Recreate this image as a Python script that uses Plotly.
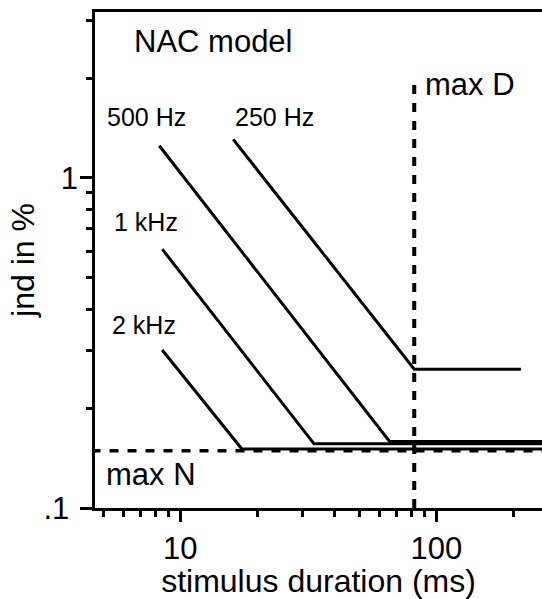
import plotly.graph_objects as go

# ---- data ----
series_names = ["250 Hz", "500 Hz", "1 kHz", "2 kHz"]
dur_250 = [16.1, 82, 214]
jnd_250 = [1.307, 0.2633, 0.2633]
dur_500 = [8.28, 65.7, 300]
jnd_500 = [1.25, 0.159, 0.159]
dur_1k = [8.5, 33.3, 300]
jnd_1k = [0.608, 0.1564, 0.1564]
dur_2k = [8.5, 17.4, 300]
jnd_2k = [0.301, 0.151, 0.151]

max_D = 82        # ms, vertical dashed line
max_D_top = 1.91  # upper end of the dashed line
max_N = 0.149     # %, horizontal dashed line

x_major = [10, 100]
x_major_text = ["10", "100"]
x_minor = [5, 6, 7, 8, 9, 20, 30, 40, 50, 60, 70, 80, 90, 200]
y_major = [0.1, 1]
y_major_text = [".1\u00a0", "1"]
y_minor = [0.2, 0.3, 0.4, 0.5, 0.6, 0.7, 0.8, 0.9, 2, 3]

FONT = "Liberation Sans, Arial, Helvetica, sans-serif"
LW = 3
AW = 2.8

fig = go.Figure()
for name, xs, ys in zip(series_names,
                        [dur_250, dur_500, dur_1k, dur_2k],
                        [jnd_250, jnd_500, jnd_1k, jnd_2k]):
    fig.add_trace(go.Scatter(x=xs, y=ys, mode="lines", name=name,
                             line=dict(color="black", width=LW),
                             showlegend=False, hoverinfo="skip"))

fig.add_trace(go.Scatter(x=[4.5, 300], y=[max_N, max_N], mode="lines",
                         line=dict(color="black", width=3.4, dash="9px,9px"),
                         showlegend=False, hoverinfo="skip"))
fig.add_trace(go.Scatter(x=[max_D, max_D], y=[0.1, max_D_top], mode="lines",
                         line=dict(color="black", width=4, dash="9px,9px"),
                         showlegend=False, hoverinfo="skip"))

# plot area in pixels: left 95, right 542, top 11.7, bottom 508.3
L, R, T, B = 95, 542, 11.7, 508.3

def px(xp):
    return (xp - L) / (R - L)

def py(yp):
    return (B - yp) / (B - T)

labels = [
    ("NAC model", 131.7, 51.7, 31),
    ("500 Hz", 105, 125, 25),
    ("250 Hz", 232.7, 125, 25),
    ("1 kHz", 111.7, 230, 25),
    ("2 kHz", 110, 333.3, 25),
    ("max D", 423.3, 95, 31),
    ("max N", 104, 485, 31),
]
for text, xl, base, fs in labels:
    fig.add_annotation(text=text, xref="paper", yref="paper",
                       x=px(xl), y=py(base - 0.33 * fs),
                       xanchor="left", yanchor="middle", showarrow=False,
                       font=dict(family=FONT, size=fs, color="black"))

fig.update_xaxes(type="log", range=[0.6668, 2.4129],
                 tickmode="array", tickvals=x_major, ticktext=x_major_text,
                 ticks="outside", ticklen=11, tickwidth=AW, tickcolor="black",
                 showline=True, linecolor="black", linewidth=AW, mirror=True,
                 showgrid=False, zeroline=False,
                 tickfont=dict(family=FONT, size=31, color="black"),
                 minor=dict(tickmode="array", tickvals=x_minor, ticks="outside",
                            ticklen=6, tickwidth=AW, tickcolor="black",
                            showgrid=False),
                 title=dict(text="stimulus duration (ms)", standoff=3,
                            font=dict(family=FONT, size=32, color="black")))
fig.update_yaxes(type="log", range=[-1, 0.502],
                 tickmode="array", tickvals=y_major, ticktext=y_major_text,
                 ticks="outside", ticklen=12, tickwidth=AW, tickcolor="black",
                 ticklabelstandoff=-4,
                 showline=True, linecolor="black", linewidth=AW, mirror=False,
                 showgrid=False, zeroline=False,
                 tickfont=dict(family=FONT, size=31, color="black"),
                 minor=dict(tickmode="array", tickvals=y_minor, ticks="outside",
                            ticklen=6, tickwidth=AW, tickcolor="black",
                            showgrid=False),
                 title=dict(text="jnd in %", standoff=0,
                            font=dict(family=FONT, size=32, color="black")))

fig.update_layout(width=542, height=599,
                  margin=dict(l=95, r=0, t=12, b=91),
                  paper_bgcolor="white", plot_bgcolor="white",
                  font=dict(family=FONT, color="black"))

fig.write_html("out.html")
